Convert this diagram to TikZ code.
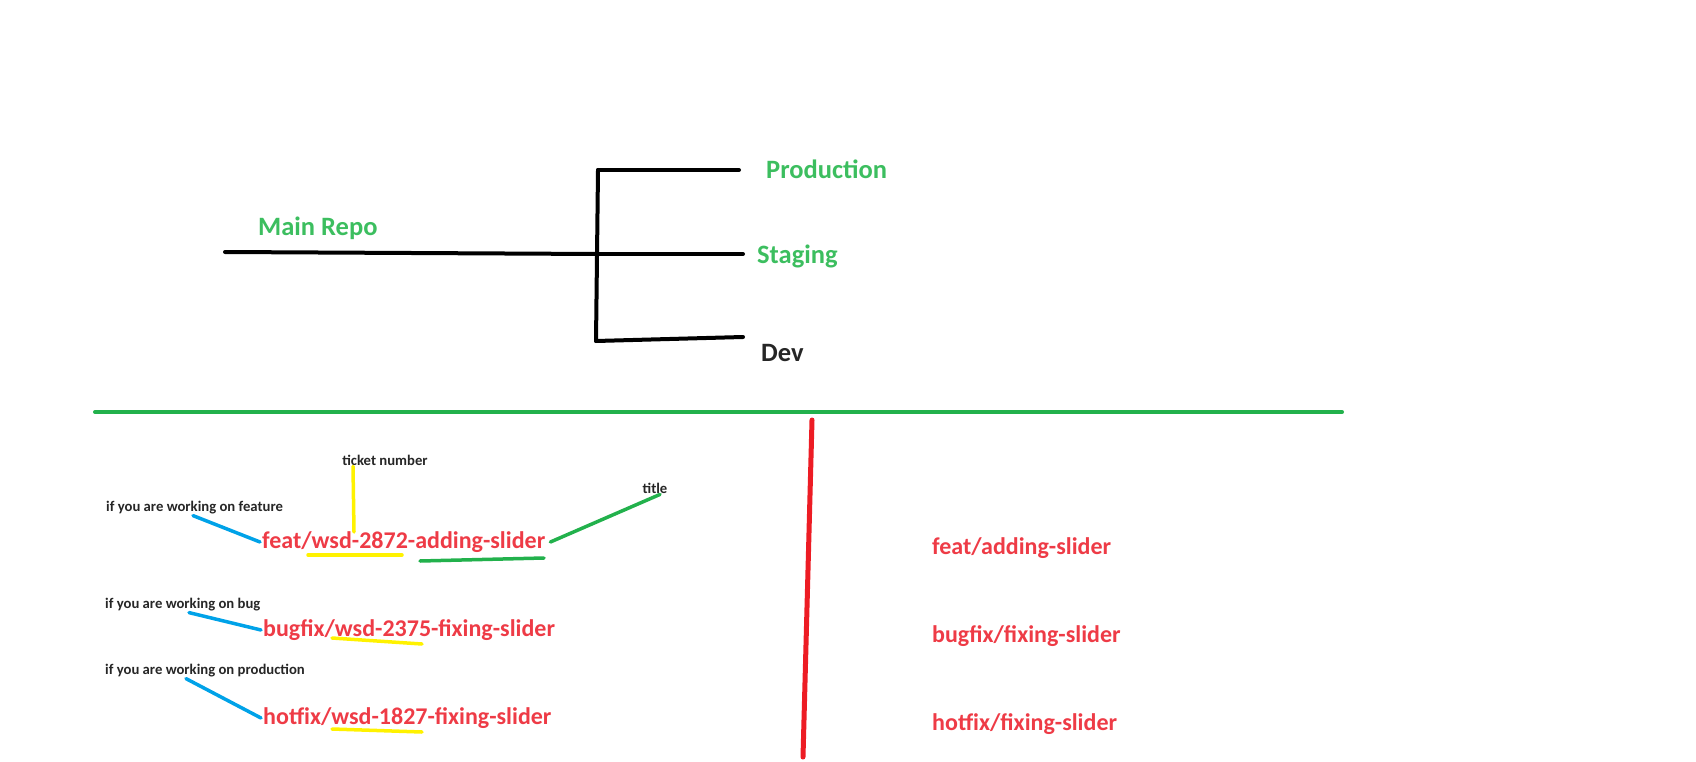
\documentclass[tikz,border=0pt]{standalone}
\usepackage{fontspec}
\setmainfont{Carlito}
\definecolor{namegreen}{RGB}{60,190,95}
\definecolor{namered}{RGB}{238,59,70}
\definecolor{linegreen}{RGB}{34,177,76}
\definecolor{linered}{RGB}{237,28,36}
\definecolor{lineblue}{RGB}{0,162,232}
\definecolor{lineyellow}{RGB}{255,242,0}
\begin{document}
\begin{tikzpicture}[x=1pt,y=-1pt, line join=round, line cap=round,
		branch/.style={line width=4pt},
		repo/.style={font=\fontsize{26.5}{31}\selectfont\bfseries, text=namegreen, inner sep=2pt},
		brname/.style={font=\fontsize{24}{29}\selectfont\bfseries, text=namered, inner sep=2pt, anchor=west},
		note/.style={font=\fontsize{14.7}{18}\selectfont\bfseries, text=black!85, inner sep=1pt},
		pointer/.style={line width=3.5pt, lineblue},
		hilite/.style={line width=3.5pt}]
	\useasboundingbox (0,0) rectangle (1696,762);
	% tree of the repositories
	\coordinate (root) at (225,252);
	\coordinate (fork) at (598,254);
	\coordinate (forktop) at (598,170);
	\coordinate (forkbot) at (596,341);
	\coordinate (prodend) at (739,170);
	\coordinate (stagend) at (743,254);
	\coordinate (devend) at (743,337);
	\node[repo, anchor=west] (mainrepo) at (256,228) {Main Repo};
	\node[repo, anchor=west] (prod) at (764,169) {Production};
	\node[repo, anchor=west] (stag) at (755,256) {Staging};
	\node[repo, anchor=west, text=black!85] (dev) at (759,353) {Dev};
	\draw[branch] (root)--(fork);
	\draw[branch] (forktop)--(forkbot);
	\draw[branch] (forktop)--(prodend);
	\draw[branch] (fork)--(stagend);
	\draw[branch] (forkbot)--(devend);
	% separators
	\coordinate (sepleft) at (95,412);
	\coordinate (sepright) at (1342,412);
	\coordinate (splittop) at (812,420);
	\coordinate (splitbot) at (803,757);
	\draw[line width=4pt, linegreen] (sepleft)--(sepright);
	\draw[line width=5pt, linered] (splittop)--(splitbot);
	% naming with ticket number
	\node[note, anchor=west] (featnote) at (105,508) {if you are working on feature};
	\node[note, anchor=west] (bugnote) at (104,605) {if you are working on bug};
	\node[note, anchor=west] (hotnote) at (104,671) {if you are working on production};
	\node[note] (ticket) at (385,460) {ticket number};
	\node[note] (title) at (655,488) {title};
	\node[brname] (featbr) at (260,542) {feat/wsd-2872-adding-slider};
	\node[brname] (bugbr) at (261,630) {bugfix/wsd-2375-fixing-slider};
	\node[brname] (hotbr) at (261,718) {hotfix/wsd-1827-fixing-slider};
	\draw[pointer] ([xshift=88pt]featnote.south west)--(featbr.west);
	\draw[pointer] ([xshift=85pt]bugnote.south west)--(bugbr.west);
	\draw[pointer] ([xshift=82pt]hotnote.south west)--(hotbr.west);
	\draw[hilite, lineyellow] ([xshift=-32pt]ticket.south)--(354,532);
	\draw[hilite, linegreen] ([xshift=3pt]featbr.east)--([xshift=5pt]title.south);
	\draw[hilite, lineyellow] (308,555)--(402,555);
	\draw[hilite, linegreen] (420,561)--(544,558);
	\draw[hilite, lineyellow] (332,638)--(422,644);
	\draw[hilite, lineyellow] (332,729)--(422,732);
	% naming without ticket number
	\node[brname] (featshort) at (930,548) {feat/adding-slider};
	\node[brname] (bugshort) at (930,636) {bugfix/fixing-slider};
	\node[brname] (hotshort) at (930,724) {hotfix/fixing-slider};
\end{tikzpicture}
\end{document}
